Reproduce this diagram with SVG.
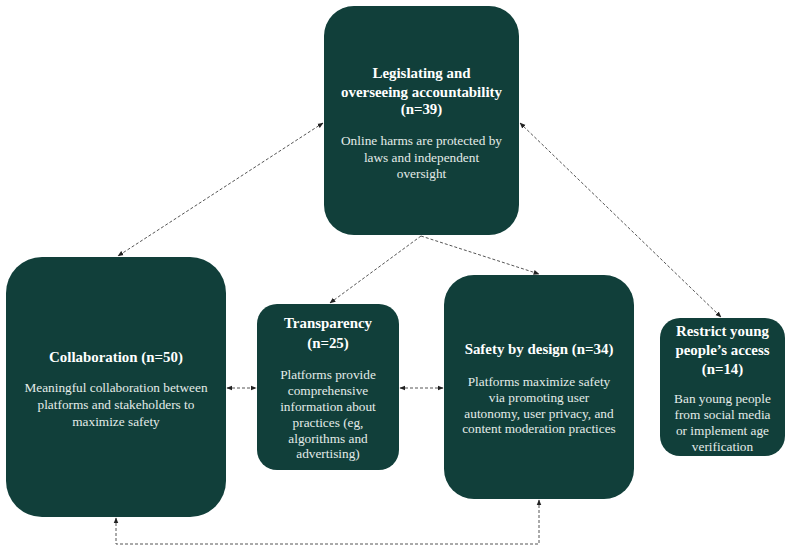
<svg xmlns="http://www.w3.org/2000/svg" width="800" height="552" viewBox="0 0 800 552">
<defs>
<style>
.box{fill:#113f3a;}
.t{font-family:"Liberation Serif","Times New Roman",serif;font-weight:bold;font-size:14.9px;fill:#ffffff;text-anchor:middle;}
.b{font-family:"Liberation Serif","Times New Roman",serif;font-size:13.3px;fill:#e4ece9;text-anchor:middle;}
.c{fill:none;stroke:#555;stroke-width:1;stroke-dasharray:3,2;}
</style>
<marker id="ah" viewBox="0 0 10 10" refX="9" refY="5" markerWidth="6" markerHeight="6" orient="auto-start-reverse" markerUnits="userSpaceOnUse">
<path d="M0,1 L10,5 L0,9 Z" fill="#222"/>
</marker>
</defs>
<rect width="800" height="552" fill="#ffffff"/>
<g id="connectors">
<line class="c" x1="323" y1="123" x2="118" y2="256" marker-start="url(#ah)" marker-end="url(#ah)"/>
<line class="c" x1="520" y1="123" x2="721" y2="317" marker-start="url(#ah)" marker-end="url(#ah)"/>
<line class="c" x1="421" y1="236" x2="330" y2="303" marker-end="url(#ah)"/>
<line class="c" x1="421" y1="236" x2="539" y2="274" marker-end="url(#ah)"/>
<line class="c" x1="227" y1="388" x2="256" y2="388" marker-start="url(#ah)" marker-end="url(#ah)"/>
<line class="c" x1="400" y1="388" x2="443" y2="388" marker-start="url(#ah)" marker-end="url(#ah)"/>
<polyline class="c" points="116,518 116,544 539,544 539,500" marker-start="url(#ah)" marker-end="url(#ah)"/>
</g>
<g id="legislating">
<rect class="box" x="324" y="6" width="195" height="229" rx="30"/>
<text class="t" x="421.5" y="78">Legislating and</text>
<text class="t" x="421.5" y="97">overseeing accountability</text>
<text class="t" x="421.5" y="114">(n=39)</text>
<text class="b" x="421.5" y="145">Online harms are protected by</text>
<text class="b" x="421.5" y="162">laws and independent</text>
<text class="b" x="421.5" y="178">oversight</text>
</g>
<g id="collaboration">
<rect class="box" x="6" y="257" width="220" height="260" rx="36"/>
<text class="t" x="116" y="362">Collaboration (n=50)</text>
<text class="b" x="116" y="392">Meaningful collaboration between</text>
<text class="b" x="116" y="409">platforms and stakeholders to</text>
<text class="b" x="116" y="426">maximize safety</text>
</g>
<g id="transparency">
<rect class="box" x="257" y="304" width="142" height="166" rx="20"/>
<text class="t" x="328" y="328">Transparency</text>
<text class="t" x="328" y="348">(n=25)</text>
<text class="b" x="328" y="379">Platforms provide</text>
<text class="b" x="328" y="395">comprehensive</text>
<text class="b" x="328" y="411">information about</text>
<text class="b" x="328" y="427">practices (eg,</text>
<text class="b" x="328" y="443">algorithms and</text>
<text class="b" x="328" y="458">advertising)</text>
</g>
<g id="safety">
<rect class="box" x="444" y="275" width="190" height="224" rx="30"/>
<text class="t" x="539" y="354">Safety by design (n=34)</text>
<text class="b" x="539" y="386">Platforms maximize safety</text>
<text class="b" x="539" y="402">via promoting user</text>
<text class="b" x="539" y="418">autonomy, user privacy, and</text>
<text class="b" x="539" y="433">content moderation practices</text>
</g>
<g id="restrict">
<rect class="box" x="660" y="318" width="125" height="138" rx="20"/>
<text class="t" x="722.5" y="336">Restrict young</text>
<text class="t" x="722.5" y="355">people’s access</text>
<text class="t" x="722.5" y="374">(n=14)</text>
<text class="b" x="722.5" y="403">Ban young people</text>
<text class="b" x="722.5" y="419">from social media</text>
<text class="b" x="722.5" y="435">or implement age</text>
<text class="b" x="722.5" y="451">verification</text>
</g>
</svg>
